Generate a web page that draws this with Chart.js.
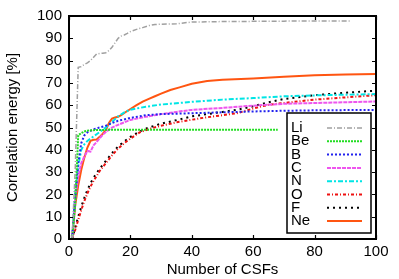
<!DOCTYPE html>
<html>
<head>
<meta charset="utf-8">
<script src="https://cdn.jsdelivr.net/npm/chart.js@4.4.1/dist/chart.umd.min.js"></script>
<style>
  html, body { margin: 0; padding: 0; background: #fff; }
  #wrap { width: 399px; height: 279px; }
</style>
</head>
<body>
<div id="wrap"><canvas id="chart" width="399" height="279"></canvas></div>
<script>
// number of CSFs (x) and correlation energy in % (y) for each atom
var liCsf  = [1, 2, 3, 4, 5, 6, 7, 8, 9, 10, 11, 12, 13, 14, 15, 16, 17, 18, 19, 20, 22, 24, 26, 28, 30, 35, 40, 50, 60, 70, 80, 92];
var liCorr = [0, 30, 77, 77.3, 78.3, 79, 80, 81.5, 83, 83.2, 83.3, 83.5, 84.5, 86, 88, 90, 91, 91.5, 92.2, 93, 94, 94.8, 95.7, 96.2, 96.3, 96.5, 97.3, 97.5, 97.6, 97.7, 97.8, 97.8];

var beCsf  = [1, 2, 3, 4, 5, 6, 8, 10, 15, 20, 30, 40, 50, 60, 68];
var beCorr = [0, 15, 46.5, 47.5, 48.2, 48.6, 48.8, 48.9, 49, 49, 49, 49, 49, 49, 49];

var bCsf  = [1, 2, 3, 4, 5, 6, 7, 8, 10, 12, 14, 16, 20, 25, 30, 40, 50, 60, 70, 80, 90, 100];
var bCorr = [0, 18, 34, 43, 46.5, 47.8, 48.5, 49.2, 50, 50.8, 52, 53, 54.3, 55.5, 56, 56.4, 56.8, 57.2, 57.5, 57.7, 57.8, 57.9];

var cCsf  = [1, 2, 3, 4, 5, 6, 7, 8, 9, 10, 11, 12, 14, 16, 20, 25, 30, 35, 40, 50, 60, 70, 80, 90, 100];
var cCorr = [0, 18, 28, 34, 37, 39.5, 39.2, 42, 43.5, 45.2, 46.8, 48, 50, 51.2, 53.4, 54.8, 56, 57, 57.9, 58.8, 59.8, 60.6, 61, 61.3, 61.7];

var nCsf  = [1, 2, 3, 4, 5, 6, 7, 8, 9, 10, 12, 14, 16, 18, 20, 25, 30, 40, 50, 60, 70, 80, 90, 100];
var nCorr = [0, 20, 32.5, 40, 42.5, 44, 45, 46, 47, 48, 50, 52.5, 55, 56.8, 58, 59.3, 60.3, 61.5, 62.5, 63.2, 64, 64.4, 64.7, 65];

var oCsf  = [1, 2, 3, 4, 5, 6, 7, 8, 10, 12, 14, 16, 18, 20, 23, 26, 30, 35, 40, 45, 50, 55, 60, 65, 70, 80, 90, 100];
var oCorr = [0, 4, 8.5, 13, 17, 20.5, 23.5, 26, 30.5, 34, 37.5, 40.5, 43, 45, 47.8, 49.3, 50.8, 52.3, 53.5, 54.6, 55.5, 56.5, 58.5, 60.2, 61, 62.5, 63.5, 64.5];

var fCsf  = [1, 2, 3, 4, 5, 6, 7, 8, 10, 12, 14, 16, 18, 20, 23, 26, 30, 35, 40, 45, 50, 55, 60, 65, 70, 80, 90, 100];
var fCorr = [0, 5, 10, 14.5, 18.5, 22, 25, 27.5, 31.5, 35, 38.5, 41.5, 43.8, 45.8, 48.2, 50, 51.7, 53.3, 55, 56, 57, 58, 59.5, 61.3, 62.8, 64.5, 65.6, 66.5];

var neCsf  = [1, 2, 3, 4, 5, 6, 7, 8, 9, 10, 11, 12, 13, 14, 15, 16, 17, 18, 20, 22, 24, 26, 28, 30, 33, 36, 40, 45, 50, 60, 70, 80, 90, 100];
var neCorr = [0, 15, 24, 31, 36.5, 41, 44, 44.5, 44.6, 45.8, 47.2, 48.8, 52, 54, 54.5, 54.8, 55.5, 56.5, 58.3, 60, 61.6, 62.8, 64, 65.2, 66.8, 68, 69.6, 70.8, 71.4, 72, 72.8, 73.4, 73.8, 74];

var xTicks = [0, 20, 40, 60, 80, 100];
var yTicks = [0, 10, 20, 30, 40, 50, 60, 70, 80, 90, 100];

function pairs(xs, ys) {
  var out = [];
  for (var i = 0; i < xs.length; i++) out.push({ x: xs[i], y: ys[i] });
  return out;
}

function series(label, xs, ys, color, dash, width) {
  return {
    label: label,
    data: pairs(xs, ys),
    borderColor: color,
    backgroundColor: color,
    borderDash: dash,
    borderWidth: width,
    pointRadius: 0,
    tension: 0,
    fill: false
  };
}

Chart.defaults.font.family = "'Liberation Sans', Arial, sans-serif";
Chart.defaults.font.size = 15;
Chart.defaults.color = "#000";

// gnuplot style frame with inward ticks on all four sides
var framePlugin = {
  id: "frame",
  afterDatasetsDraw: function (chart) {
    var ctx = chart.ctx;
    var a = chart.chartArea;
    var xs = chart.scales.x, ys = chart.scales.y;
    var len = 4;
    ctx.save();
    ctx.strokeStyle = "#000";
    ctx.lineWidth = 1.2;
    ctx.beginPath();
    xTicks.forEach(function (v) {
      var px = Math.round(xs.getPixelForValue(v)) + 0.5;
      ctx.moveTo(px, a.bottom); ctx.lineTo(px, a.bottom - len);
      ctx.moveTo(px, a.top); ctx.lineTo(px, a.top + len);
    });
    yTicks.forEach(function (v) {
      var py = Math.round(ys.getPixelForValue(v)) + 0.5;
      ctx.moveTo(a.left, py); ctx.lineTo(a.left + len, py);
      ctx.moveTo(a.right, py); ctx.lineTo(a.right - len, py);
    });
    ctx.stroke();
    ctx.lineWidth = 2;
    ctx.strokeRect(a.left, a.top, a.right - a.left, a.bottom - a.top);
    ctx.restore();
  },
  afterDraw: function (chart) {
    // legend box in the lower right corner of the plot
    var ctx = chart.ctx;
    var a = chart.chartArea;
    var right = a.right - 5, bottom = a.bottom - 6;
    var w = 84, h = 120;
    var left = right - w, top = bottom - h;
    var rowH = 13.3;
    ctx.save();
    ctx.fillStyle = "#fff";
    ctx.fillRect(left, top, w, h);
    ctx.strokeStyle = "#000";
    ctx.lineWidth = 1.5;
    ctx.strokeRect(left, top, w, h);
    ctx.font = "15px 'Liberation Sans', Arial, sans-serif";
    ctx.textBaseline = "middle";
    ctx.textAlign = "left";
    chart.data.datasets.forEach(function (ds, i) {
      var y = top + 15 + i * rowH;
      ctx.fillStyle = "#000";
      ctx.fillText(ds.label, left + 4, y);
      ctx.strokeStyle = ds.borderColor;
      ctx.lineWidth = ds.borderWidth;
      ctx.setLineDash(ds.borderDash);
      ctx.beginPath();
      ctx.moveTo(left + 40, y);
      ctx.lineTo(left + 75, y);
      ctx.stroke();
      ctx.setLineDash([]);
    });
    ctx.restore();
  }
};

new Chart(document.getElementById("chart"), {
  type: "line",
  data: {
    datasets: [
      series("Li", liCsf, liCorr, "#a0a0a0", [5, 2, 1, 2], 1.5),
      series("Be", beCsf, beCorr, "#22dd22", [2, 1], 2),
      series("B", bCsf, bCorr, "#2222ee", [2, 2], 2),
      series("C", cCsf, cCorr, "#ee55ee", [4, 1], 2),
      series("N", nCsf, nCorr, "#00e5e5", [5, 2, 2, 2], 2),
      series("O", oCsf, oCorr, "#ee1111", [3, 2, 1, 2], 2),
      series("F", fCsf, fCorr, "#000000", [2, 4], 2),
      series("Ne", neCsf, neCorr, "#ff5511", [], 2)
    ]
  },
  options: {
    responsive: false,
    animation: false,
    layout: { padding: { top: 15, right: 23, left: 0, bottom: 0 } },
    plugins: { legend: { display: false }, tooltip: { enabled: false } },
    scales: {
      x: {
        type: "linear",
        min: 0,
        max: 100,
        grid: { display: false, drawTicks: false },
        border: { display: false },
        ticks: { stepSize: 20, padding: 4, maxRotation: 0 },
        title: { display: true, text: "Number of CSFs", padding: { top: 0, bottom: 0 } },
        afterFit: function (scale) { scale.height = 40; }
      },
      y: {
        min: 0,
        max: 100,
        grid: { display: false, drawTicks: false },
        border: { display: false },
        ticks: { stepSize: 10, padding: 7 },
        title: { display: true, text: "Correlation energy [%]", padding: { top: 4, bottom: 0 } },
        afterFit: function (scale) { scale.width = 69; }
      }
    }
  },
  plugins: [framePlugin]
});
</script>
</body>
</html>
